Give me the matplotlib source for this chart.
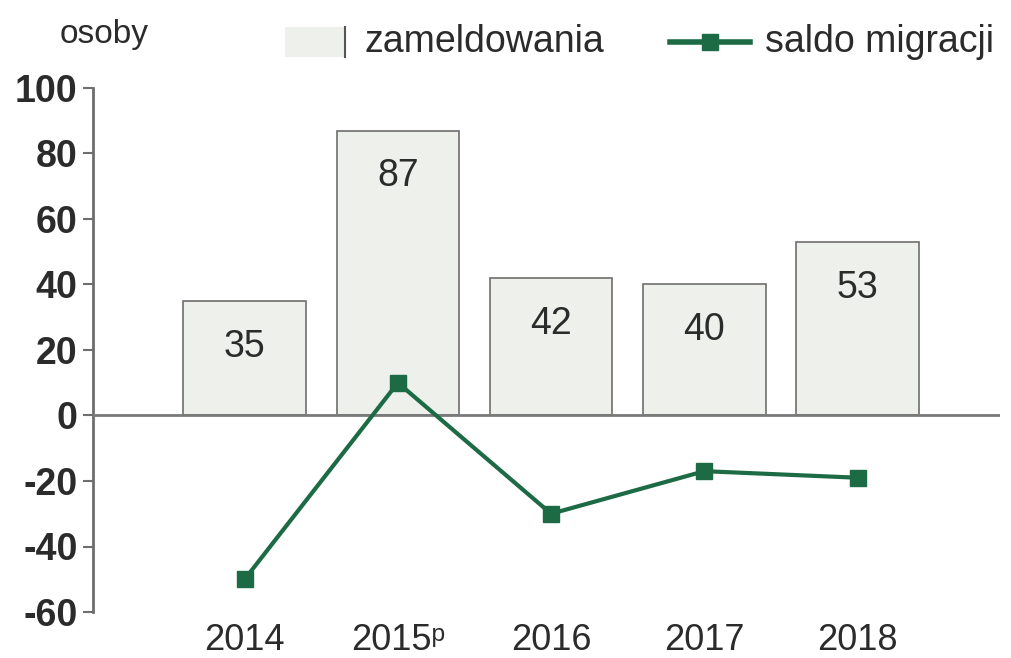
import matplotlib
matplotlib.use("Agg")
import matplotlib.pyplot as plt
import numpy as np
from matplotlib.lines import Line2D
from matplotlib.patches import Rectangle

years = ["2014", "2015ᵖ", "2016", "2017", "2018"]
zameldowania = [35, 87, 42, 40, 53]
saldo_migracji = [-50, 10, -30, -17, -19]
yticks = [100, 80, 60, 40, 20, 0, -20, -40, -60]
legend_labels = ["zameldowania", "saldo migracji"]

plt.rcParams['font.family'] = ['Liberation Sans', 'DejaVu Sans']
txt = '#2b2b2b'
bar_fc = '#eef0eb'
bar_ec = '#6e6e6e'
green = '#1d6b45'

W, H = 1011, 658
fig = plt.figure(figsize=(W/100, H/100), dpi=100)
ax = fig.add_axes([93/W, 46/H, (1000-93)/W, (612-88)/H])

x = np.arange(len(years))
ax.bar(x, zameldowania, width=0.8, color=bar_fc, edgecolor=bar_ec, linewidth=1.2, zorder=2)
for xi, v in zip(x, zameldowania):
    ax.text(xi, v - 14, str(v), ha='center', va='center',
            fontsize=27, color=txt, zorder=3)

ax.axhline(0, color='#7a7a7a', linewidth=2, zorder=3)
ax.plot(x, saldo_migracji, color=green, linewidth=3, marker='s', markersize=11,
        markerfacecolor=green, markeredgecolor=green, zorder=4)

ax.set_xlim(-0.99, 4.93)
ax.set_ylim(-60, 100)
ax.set_yticks(yticks)
ax.set_yticklabels([str(t) for t in yticks])
ax.set_xticks(x)
ax.set_xticklabels(years)
ax.tick_params(axis='y', direction='out', length=7, width=1.5, color='#6e6e6e',
               labelsize=27, labelcolor=txt, pad=4)
ax.tick_params(axis='x', length=0, labelsize=26, labelcolor=txt, pad=8)
for lab in ax.get_yticklabels():
    lab.set_fontweight('bold')
for s in ['top', 'right', 'bottom']:
    ax.spines[s].set_visible(False)
ax.spines['left'].set_color('#6e6e6e')
ax.spines['left'].set_linewidth(2)

fig.text(60/W, 1 - 35/H, "osoby", fontsize=24, color=txt, va='center', ha='left')

# legend drawn in figure coordinates
ly = 1 - 42/H
fig.patches.append(Rectangle((285/W, 1 - 57/H), 60/W, 30/H, transform=fig.transFigure,
                             facecolor=bar_fc, edgecolor='none'))
fig.lines.append(Line2D([345/W, 345/W], [1 - 57/H, 1 - 27/H], transform=fig.transFigure,
                        color='#555555', linewidth=1.5))
fig.text(365/W, ly, legend_labels[0], fontsize=27, color=txt, va='center', ha='left')
fig.lines.append(Line2D([670/W, 710/W, 750/W], [ly, ly, ly], transform=fig.transFigure,
                        color=green, linewidth=4, marker='s', markersize=11,
                        markevery=[1]))
fig.text(765/W, ly, legend_labels[1], fontsize=27, color=txt, va='center', ha='left')

fig.savefig("out.png", dpi=100)
